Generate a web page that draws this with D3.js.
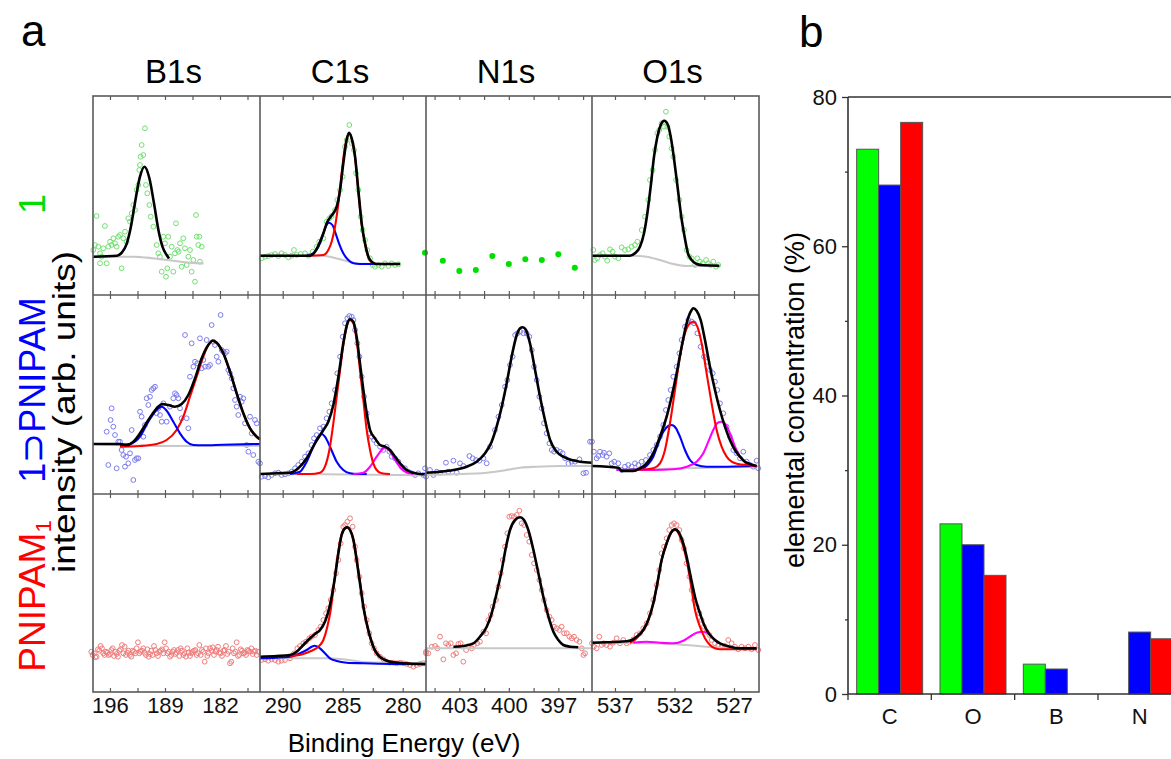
<!DOCTYPE html>
<html>
<head>
<meta charset="utf-8">
<script src="https://cdn.jsdelivr.net/npm/d3@7"></script>
<style>
body { margin: 0; background: #fff; }
svg { display: block; }
text { font-family: "Liberation Sans", Arial, sans-serif; }
</style>
</head>
<body>
<script>
// ---- panel a: XPS spectra, [binding energy (eV), intensity (arb. units)] ----
var columnNames = ["B1s", "C1s", "N1s", "O1s"];
var energyRanges = [[198.16, 176.91], [291.89, 278.06], [405.02, 394.96], [538.93, 524.90]];
var majorTicks = [[196, 189, 182], [290, 285, 280], [403, 400, 397], [537, 532, 527]];
var minorTicks = [[192.5, 185.5, 178.5], [287.5, 282.5], [404.5, 401.5, 398.5, 395.5], [534.5, 529.5]];

// row 1: compound 1
var b1s_1_pts = [[197.70,79.0],[197.91,50.0],[197.48,48.3],[198.12,45.0],[197.27,41.7],[197.06,38.3],[196.85,46.7],[196.64,69.0],[196.42,31.7],[197.27,31.7],[196.21,48.3],[196.00,53.3],[195.79,50.0],[195.57,56.7],[195.36,51.7],[195.15,48.3],[194.94,58.3],[194.73,60.0],[194.52,26.7],[194.30,56.7],[194.09,63.3],[193.88,53.3],[193.67,76.7],[193.45,73.3],[193.24,81.7],[193.03,90.0],[192.82,85.0],[192.61,105.0],[192.39,110.0],[192.27,125.0],[192.18,130.0],[192.10,138.3],[191.97,150.0],[191.76,140.0],[191.55,166.7],[191.42,110.0],[191.25,101.7],[190.99,90.0],[190.82,78.3],[190.48,68.3],[190.06,50.0],[189.85,41.7],[189.64,38.3],[189.42,23.3],[189.21,58.3],[189.00,51.7],[188.87,18.3],[188.70,26.7],[188.58,58.3],[188.36,38.3],[188.15,48.3],[187.94,23.3],[187.73,41.7],[187.60,71.7],[187.43,45.0],[187.26,43.3],[187.09,51.7],[186.88,28.3],[186.67,56.7],[186.46,46.7],[186.24,30.0],[186.03,38.3],[185.82,45.0],[185.61,23.3],[185.39,35.0],[185.18,13.3],[185.05,80.0],[184.97,58.3],[184.76,50.0],[184.63,58.3],[184.55,33.3],[184.33,48.3]];
var b1s_1_fit = [[198.1,38.3],[195.1,39.3],[194.5,42.3],[193.9,50.6],[193.35,67.7],[192.8,93.1],[192.2,117.9],[191.6,128.3],[191.0,117.2],[190.4,91.7],[189.85,65.6],[189.3,47.9],[188.7,39.0],[188.5,36.5]];
var b1s_1_bg = [[198.1,38.3],[193,38.2],[192,37.8],[191,37.1],[190,36.2],[189,35.3],[188,34.2],[187,33.2],[186,32.4],[185,31.9],[184.1,31.6]];

var c1s_1_pts = [[291.75,36.7],[291.47,38.3],[291.20,39.0],[290.92,40.0],[290.64,41.0],[290.36,39.0],[290.09,41.7],[289.81,40.0],[289.53,37.7],[289.25,39.3],[289.06,45.0],[288.84,40.0],[288.50,41.0],[288.14,41.7],[287.86,39.3],[287.50,43.3],[287.17,48.3],[286.95,53.3],[286.61,56.7],[286.34,73.3],[286.11,76.7],[285.92,79.0],[285.64,85.0],[285.45,95.0],[285.22,105.0],[285.00,118.3],[284.81,148.3],[284.67,155.0],[284.45,170.0],[284.25,151.7],[284.06,145.0],[283.89,121.7],[283.70,105.0],[283.50,78.3],[283.34,65.0],[283.14,55.0],[282.95,45.0],[282.72,36.7],[282.50,30.0],[282.31,28.3],[282.03,30.0],[281.75,28.3],[281.47,31.7],[281.20,29.0],[280.92,31.7],[280.64,30.0],[280.36,30.7]];
var c1s_1_fit = [[291.89,39.3],[287.72,39.3],[287.31,43.3],[286.89,53.3],[286.61,61.7],[286.28,73.3],[286.06,77.3],[285.78,81.7],[285.50,88.3],[285.22,105.0],[284.95,131.7],[284.67,155.0],[284.47,162.3],[284.25,156.7],[283.97,138.3],[283.70,105.0],[283.42,71.7],[283.14,51.7],[282.86,38.3],[282.59,33.3],[282.17,31.0],[280.22,31.0]];
var c1s_1_red = [[288.00,39.3],[286.61,40.0],[286.20,45.0],[285.92,53.3],[285.64,68.3],[285.36,91.7],[285.09,121.7],[284.81,148.3],[284.47,161.7],[284.25,156.0],[283.97,137.7],[283.70,104.3],[283.42,71.0],[283.14,51.0],[282.86,37.7],[282.59,32.7],[282.31,31.3]];
var c1s_1_blue = [[288.00,39.3],[287.45,41.7],[287.03,48.3],[286.70,58.3],[286.42,68.3],[286.14,72.3],[285.86,70.0],[285.59,61.7],[285.31,51.7],[284.95,41.7],[284.53,35.0],[284.11,31.7],[283.56,31.0],[282.45,31.0]];
var c1s_1_bg = [[291.89,39.3],[286.89,39.3],[286.06,38.3],[285.22,35.7],[284.39,33.0],[283.56,31.3],[280.22,31.0]];

var n1s_1_pts = [[405.08,42.3],[404,34.3],[403,24.0],[402,25.0],[401,39.0],[400,31.0],[399,35.7],[398,35.0],[397,40.7],[396,27.3]];

var o1s_1_pts = [[538.82,45.0],[538.68,35.0],[538.49,36.7],[538.26,40.0],[538.04,41.7],[537.84,38.3],[537.65,34.3],[537.42,45.7],[537.20,43.3],[537.00,38.3],[536.72,36.7],[536.44,47.7],[536.16,45.0],[535.88,45.7],[535.60,48.3],[535.32,50.0],[535.12,53.3],[534.76,65.0],[534.48,78.3],[534.20,95.0],[534.06,115.0],[533.84,125.0],[533.64,145.0],[533.44,161.7],[533.28,165.0],[533.08,171.7],[532.88,168.3],[532.72,183.3],[532.60,168.3],[532.44,158.3],[532.24,146.7],[532.10,138.3],[531.87,115.0],[531.59,95.0],[531.40,78.3],[531.20,65.0],[530.98,45.0],[530.75,38.3],[530.56,36.7],[530.28,30.0],[530.08,36.7],[529.86,33.3],[529.63,31.7],[529.35,35.0],[529.16,31.7],[528.96,30.0],[528.74,33.3],[528.51,28.3],[528.32,30.0]];
var o1s_1_fit = [[538.93,39.3],[535.74,39.3],[535.32,41.7],[534.90,48.3],[534.56,61.7],[534.28,81.7],[534.00,108.3],[533.72,138.3],[533.44,158.3],[533.16,170.0],[532.86,174.3],[532.55,170.0],[532.27,155.0],[531.99,131.7],[531.71,105.0],[531.43,78.3],[531.15,58.3],[530.87,41.7],[530.56,35.0],[530.14,31.0],[529.58,29.7],[528.23,29.3]];
var o1s_1_bg = [[538.93,39.3],[535.46,39.3],[534.34,38.3],[533.22,35.0],[532.10,31.0],[530.98,29.0],[528.23,29.0]];

// row 2: 1⊃PNIPAM
var b1s_2_pts = [[196.42,62.3],[196.21,29.0],[195.92,74.0],[195.79,85.7],[195.58,67.3],[195.36,59.0],[195.15,25.7],[194.94,52.3],[194.73,52.3],[194.52,44.0],[194.30,39.0],[194.09,27.3],[193.96,37.3],[193.67,30.7],[193.45,40.7],[193.24,64.0],[193.03,14.0],[192.82,34.0],[192.61,35.7],[192.39,35.7],[192.18,82.3],[191.97,77.3],[191.76,57.3],[191.55,69.0],[191.33,95.7],[191.12,89.0],[190.91,97.3],[190.70,104.0],[190.48,105.7],[190.27,107.3],[190.06,80.7],[189.85,85.7],[189.64,79.0],[189.42,72.3],[189.21,90.7],[188.79,72.3],[188.36,87.3],[187.94,95.7],[187.73,100.7],[187.52,99.0],[187.30,95.7],[187.09,85.7],[186.88,75.7],[186.45,159.0],[186.24,75.7],[186.03,65.7],[185.82,117.3],[185.61,150.7],[185.39,127.3],[185.18,132.3],[184.88,130.7],[184.55,155.7],[184.33,125.7],[184.12,134.0],[183.91,127.3],[183.70,154.0],[183.49,127.3],[183.27,129.0],[183.06,169.0],[182.85,152.3],[182.64,149.0],[182.42,137.3],[182.21,132.3],[181.92,179.0],[181.79,144.0],[181.58,142.3],[181.36,140.7],[181.15,142.3],[180.94,124.0],[180.73,120.7],[180.51,115.7],[180.30,105.7],[180.09,94.0],[179.88,87.3],[179.67,79.0],[179.45,97.3],[179.24,92.3],[179.03,95.7],[178.82,70.7],[178.61,49.0],[178.39,42.3],[178.18,77.3],[177.97,60.7],[177.76,39.0],[177.55,74.0],[177.33,70.7],[177.12,32.3],[176.91,30.7]];
var b1s_2_fit = [[198.12,50.0],[194.73,50.0],[193.88,49.0],[193.03,52.3],[192.18,60.7],[191.12,74.0],[190.06,85.7],[189.30,90.0],[188.58,89.0],[187.73,87.3],[186.88,90.0],[186.03,99.0],[185.18,115.7],[184.33,135.7],[183.49,149.0],[182.93,153.3],[182.42,151.3],[181.58,140.7],[180.73,122.3],[179.88,100.7],[179.03,80.7],[178.18,65.7],[177.33,57.3],[176.91,54.7]];
var b1s_2_red = [[194.73,47.3],[192.18,48.0],[190.06,50.0],[188.79,54.0],[187.52,64.0],[186.67,77.3],[185.82,97.3],[184.97,117.3],[184.12,137.3],[183.49,149.0],[182.93,153.3],[182.42,151.3],[181.58,140.7],[180.73,122.3],[179.88,100.7],[179.03,80.7],[178.18,65.7],[177.33,57.3],[176.91,54.7]];
var b1s_2_blue = [[194.73,49.0],[193.45,50.0],[192.18,57.3],[191.12,72.3],[190.06,84.0],[189.42,87.3],[188.79,83.3],[187.94,72.3],[187.09,60.7],[186.24,52.3],[185.39,49.0],[184.12,48.7],[181.58,49.3],[176.91,50.0]];
var b1s_2_bg = [[198.12,50.0],[194.30,48.7],[190.06,48.0],[176.91,48.3]];

var c1s_2_pts = [[291.75,17.3],[291.47,18.0],[291.20,16.7],[290.92,19.0],[290.64,20.7],[290.36,21.3],[290.09,19.0],[289.81,19.7],[289.53,20.7],[289.25,22.3],[288.97,25.7],[288.70,29.0],[288.42,32.3],[288.14,37.3],[287.86,40.7],[287.59,49.0],[287.39,55.7],[287.17,59.0],[286.89,65.7],[286.61,67.3],[286.34,75.7],[286.11,82.3],[285.92,90.7],[285.64,104.0],[285.45,120.7],[285.22,137.3],[285.00,157.3],[284.81,170.7],[284.61,175.7],[284.45,178.0],[284.25,177.3],[284.11,174.0],[283.97,164.0],[283.78,150.7],[283.61,137.3],[283.42,117.3],[283.22,97.3],[283.00,80.7],[282.78,60.7],[282.59,57.3],[282.39,54.0],[282.17,50.7],[281.89,47.3],[281.61,44.0],[281.34,47.3],[281.11,42.3],[280.92,37.3],[280.64,35.7],[280.36,32.3],[280.09,27.3],[279.81,25.7],[279.53,22.3],[279.25,20.7],[278.97,19.0],[278.70,20.7],[278.28,19.0],[278.14,25.7]];
var c1s_2_fit = [[291.89,20.0],[290.50,20.7],[289.39,21.3],[288.70,25.7],[288.00,35.7],[287.31,50.7],[286.61,64.0],[286.20,72.3],[285.78,89.0],[285.36,117.3],[284.95,150.7],[284.61,170.7],[284.39,174.7],[284.11,172.3],[283.84,157.3],[283.56,130.7],[283.28,104.0],[283.00,80.7],[282.72,64.0],[282.31,55.7],[281.89,49.0],[281.47,47.3],[281.06,44.0],[280.64,37.3],[280.22,30.7],[279.67,24.0],[279.11,21.3],[278.56,20.0],[278.14,19.7]];
var c1s_2_red = [[288.84,20.0],[287.72,20.0],[286.89,21.3],[286.48,27.3],[286.11,44.0],[285.78,70.7],[285.50,97.3],[285.22,124.0],[284.95,149.0],[284.67,167.3],[284.39,174.0],[284.11,170.7],[283.84,154.0],[283.56,124.0],[283.28,94.0],[283.00,64.0],[282.72,44.0],[282.45,30.7],[282.17,24.0],[281.75,20.7],[281.06,20.0]];
var c1s_2_blue = [[289.39,20.0],[288.56,22.3],[288.00,32.3],[287.45,47.3],[287.03,57.3],[286.75,60.0],[286.48,57.3],[286.06,47.3],[285.50,32.3],[284.95,24.0],[284.39,20.7],[283.84,20.0],[283.00,20.0]];
var c1s_2_mag = [[284.11,20.0],[283.28,21.3],[282.72,27.3],[282.17,37.3],[281.75,44.0],[281.47,46.7],[281.20,44.7],[280.78,37.3],[280.36,29.0],[279.81,22.3],[279.11,20.0]];
var c1s_2_bg = [[291.89,20.0],[286.61,19.7],[278.14,18.7]];

var n1s_2_pts = [[405.02,17.3],[404.78,24.0],[404.57,19.0],[404.37,22.3],[404.17,21.3],[403.81,31.3],[403.67,22.3],[403.36,33.3],[403.16,21.3],[402.96,30.7],[402.76,28.0],[402.39,38.0],[402.19,35.7],[401.99,34.0],[401.79,33.3],[401.54,35.7],[401.34,30.7],[401.14,47.3],[400.84,64.0],[400.63,77.3],[400.43,89.0],[400.23,107.3],[400.09,114.0],[399.93,129.0],[399.77,137.3],[399.62,159.0],[399.48,160.7],[399.32,162.3],[399.12,160.7],[398.92,160.7],[398.76,157.3],[398.61,144.0],[398.47,127.3],[398.31,114.0],[398.15,97.3],[398.01,85.7],[397.87,70.7],[397.71,60.7],[397.54,50.7],[397.40,44.0],[397.26,42.3],[397.10,44.0],[396.90,42.3],[396.74,40.7],[396.59,35.7],[396.39,30.7],[396.19,32.3],[395.99,32.3],[395.72,34.7],[395.48,20.7],[395.32,21.3],[395.08,52.3]];
var n1s_2_fit = [[405.02,21.3],[404.17,22.3],[403.36,24.0],[402.55,27.3],[401.95,32.3],[401.44,40.7],[401.04,52.3],[400.74,67.3],[400.43,87.3],[400.13,110.7],[399.83,137.3],[399.52,159.0],[399.32,165.7],[399.16,166.7],[398.96,164.0],[398.72,150.7],[398.41,124.0],[398.11,97.3],[397.81,74.0],[397.50,54.0],[397.10,42.3],[396.70,37.3],[396.19,34.0],[395.68,32.3],[394.96,31.3]];
var n1s_2_bg = [[405.02,19.0],[403.36,19.7],[401.34,21.3],[400.13,24.0],[399.32,26.3],[398.31,27.3],[396.90,28.0],[394.96,28.0]];

var o1s_2_pts = [[538.93,52.3],[538.77,42.3],[538.54,35.7],[538.40,38.0],[538.26,42.3],[538.04,39.0],[537.93,41.3],[537.70,37.3],[537.48,40.7],[537.28,30.7],[537.06,32.3],[536.72,30.7],[536.44,24.0],[536.16,27.3],[535.88,29.0],[535.60,27.3],[535.32,30.7],[535.04,29.0],[534.76,32.3],[534.40,34.0],[534.06,39.0],[533.78,44.0],[533.50,49.0],[533.22,57.3],[532.94,69.0],[532.72,84.0],[532.52,94.0],[532.32,104.0],[532.10,117.3],[531.82,127.3],[531.59,140.7],[531.40,154.0],[531.12,167.3],[530.84,174.0],[530.56,172.3],[530.36,170.7],[530.08,160.7],[529.80,147.3],[529.52,137.3],[529.24,132.3],[529.02,124.0],[528.79,120.7],[528.60,112.3],[528.40,104.0],[528.18,90.7],[527.90,80.7],[527.62,67.3],[527.34,57.3],[527.06,44.0],[526.78,40.7],[526.50,35.7],[526.22,42.3],[525.94,32.3],[525.66,29.0],[525.38,27.3],[525.10,33.3],[524.96,25.7]];
var o1s_2_fit = [[538.93,28.0],[536.72,26.3],[536.44,23.0],[535.46,23.0],[534.90,25.7],[534.34,30.7],[533.78,40.7],[533.22,57.3],[532.66,77.3],[532.24,97.3],[531.82,120.7],[531.40,147.3],[530.98,170.7],[530.64,182.3],[530.42,185.7],[530.14,183.3],[529.80,174.0],[529.44,154.0],[529.02,127.3],[528.60,104.0],[528.18,84.0],[527.76,67.3],[527.34,54.0],[526.92,44.0],[526.50,37.3],[526.08,32.3],[525.66,30.0],[525.10,28.0]];
var o1s_2_red = [[536.58,24.0],[534.34,24.7],[533.78,25.7],[533.22,30.7],[532.80,44.0],[532.38,70.7],[531.96,104.0],[531.54,137.3],[531.12,160.7],[530.70,170.7],[530.42,172.3],[530.08,167.3],[529.72,150.7],[529.30,120.7],[528.88,90.7],[528.46,64.0],[528.04,47.3],[527.62,37.3],[527.20,32.3],[526.64,30.0],[525.94,29.0],[525.10,28.0]];
var o1s_2_blue = [[536.86,24.0],[534.90,24.7],[534.20,30.0],[533.78,37.3],[533.36,50.7],[532.94,62.3],[532.52,68.0],[532.24,69.0],[531.87,65.7],[531.54,57.3],[531.12,44.0],[530.70,34.0],[530.14,29.0],[529.30,27.3],[528.18,27.3],[525.10,28.0]];
var o1s_2_mag = [[536.86,24.0],[533.78,24.0],[532.10,24.7],[530.98,27.3],[530.14,32.3],[529.58,40.7],[529.16,52.3],[528.74,64.0],[528.37,71.3],[528.04,72.3],[527.67,69.0],[527.34,60.7],[526.92,47.3],[526.50,37.3],[525.94,30.7],[525.38,28.0],[525.10,27.3]];
var o1s_2_bg = [[536.58,24.0],[530.98,25.7],[525.10,27.3]];

// row 3: PNIPAM1
var b1s_3_pts = [[198.21,37.0],[197.87,34.7],[197.53,42.7],[197.19,46.0],[196.85,38.7],[196.51,40.3],[196.17,37.0],[195.83,42.0],[195.49,36.0],[195.15,38.0],[194.81,41.3],[194.47,47.0],[194.13,45.3],[193.80,39.3],[193.46,37.0],[193.12,41.3],[192.78,38.7],[192.44,49.7],[192.10,40.3],[191.76,43.7],[191.42,37.0],[191.08,35.3],[190.74,41.3],[190.40,46.0],[190.06,38.7],[189.72,40.3],[189.38,42.7],[189.04,49.7],[188.70,38.7],[188.36,35.3],[188.02,40.3],[187.69,38.0],[187.35,42.0],[187.01,43.7],[186.67,37.0],[186.33,35.3],[185.99,39.3],[185.65,38.7],[185.31,41.3],[184.97,37.0],[184.63,47.0],[184.29,42.0],[183.95,30.3],[183.61,36.0],[183.27,43.7],[182.93,44.7],[182.59,40.3],[182.25,45.3],[181.92,38.7],[181.58,41.3],[181.24,46.0],[180.90,40.3],[180.56,30.3],[180.22,38.7],[179.88,49.7],[179.54,37.0],[179.20,41.3],[178.86,39.3],[178.52,42.0],[178.18,40.3],[177.84,38.0],[177.50,41.3],[177.16,40.3],
  [198.38,40.3],[198.04,38.7],[197.70,35.3],[197.36,41.3],[197.02,43.7],[196.68,37.0],[196.34,39.3],[196.00,38.0],[195.66,43.7],[195.32,40.3],[194.98,35.3],[194.64,42.7],[194.30,38.7],[193.97,37.0],[193.63,41.3],[193.29,35.3],[192.95,40.3],[192.61,43.7],[192.27,38.7],[191.93,41.3],[191.59,39.3],[191.25,42.7],[190.91,38.0],[190.57,37.0],[190.23,42.0],[189.89,36.0],[189.55,41.3],[189.21,38.7],[188.87,43.7],[188.53,40.3],[188.19,37.0],[187.85,42.0],[187.52,39.3],[187.18,36.0],[186.84,41.3],[186.50,38.7],[186.16,43.7],[185.82,36.0],[185.48,40.3],[185.14,42.0],[184.80,38.7],[184.46,37.0],[184.12,40.3],[183.78,43.7],[183.44,38.7],[183.10,41.3],[182.76,37.0],[182.42,42.0],[182.09,39.3],[181.75,36.0],[181.41,42.0],[181.07,38.0],[180.73,28.7],[180.39,43.7],[180.05,40.3],[179.71,36.0],[179.37,42.7],[179.03,38.7],[178.69,37.0],[178.35,41.3],[178.01,43.7],[177.67,40.3],[177.33,37.0]];

var c1s_3_pts = [[291.75,32.0],[291.47,32.7],[291.20,31.3],[290.92,32.7],[290.64,32.0],[290.36,30.3],[290.09,31.3],[289.81,32.0],[289.39,33.7],[289.06,38.7],[288.78,43.7],[288.56,46.0],[288.28,48.7],[288.06,50.3],[287.78,53.7],[287.59,55.3],[287.31,57.0],[287.03,62.0],[286.84,65.3],[286.61,72.0],[286.39,78.7],[286.20,83.7],[286.00,92.0],[285.78,102.0],[285.56,118.7],[285.36,132.0],[285.17,148.7],[284.95,165.3],[284.81,167.0],[284.61,170.3],[284.39,173.7],[284.17,165.3],[283.97,145.3],[283.84,132.0],[283.61,115.3],[283.42,98.7],[283.22,85.3],[283.00,72.0],[282.78,58.7],[282.59,48.7],[282.39,43.7],[282.17,38.7],[281.89,35.3],[281.61,32.7],[281.34,30.3],[281.06,29.3],[280.78,29.3],[280.50,28.7],[280.22,29.3],[279.95,28.7],[279.67,28.0],[279.39,27.0],[279.11,25.3],[278.84,27.0],[278.56,28.0],[278.28,28.7],[278.06,38.7]];
var c1s_3_fit = [[291.89,35.3],[290.50,36.0],[289.39,37.0],[288.84,40.3],[288.28,47.0],[287.72,53.7],[287.31,58.0],[286.89,62.0],[286.48,70.3],[286.20,80.3],[285.92,95.3],[285.64,115.3],[285.36,138.7],[285.09,157.0],[284.81,163.7],[284.61,164.7],[284.39,162.0],[284.11,152.0],[283.84,132.0],[283.56,108.7],[283.28,85.3],[283.00,68.7],[282.72,55.3],[282.45,45.3],[282.17,38.7],[281.75,33.7],[281.34,31.3],[280.78,29.7],[279.95,28.7],[278.06,28.0]];
var c1s_3_red = [[289.39,36.0],[288.28,38.0],[287.59,41.3],[287.03,45.3],[286.61,52.0],[286.28,65.3],[286.00,82.0],[285.72,108.7],[285.45,133.7],[285.17,153.7],[284.89,162.7],[284.61,164.3],[284.34,161.3],[284.06,150.3],[283.78,128.7],[283.50,105.3],[283.22,82.0],[282.95,65.3],[282.67,52.7],[282.39,43.7],[282.03,37.0],[281.61,33.0],[281.06,30.3],[280.22,29.3],[279.39,28.7]];
var c1s_3_blue = [[291.89,33.7],[290.50,34.3],[289.39,35.3],[288.56,38.7],[288.00,42.0],[287.59,45.3],[287.31,46.3],[286.89,43.7],[286.48,38.7],[286.06,33.7],[285.50,31.0],[284.67,29.3],[283.28,28.7],[281.06,28.0],[278.06,27.7]];
var c1s_3_bg = [[291.89,33.7],[286.61,33.7],[284.95,32.7],[283.28,30.0],[278.06,28.7]];

var n1s_3_pts = [[405.02,40.3],[404.88,38.7],[404.67,45.3],[404.47,46.0],[404.33,43.7],[404.17,55.3],[403.97,32.7],[403.81,48.7],[403.67,47.0],[403.52,48.7],[403.36,37.0],[403.20,38.7],[403.06,48.0],[402.92,48.7],[402.76,30.3],[402.59,42.0],[402.45,46.0],[402.25,43.7],[402.11,47.0],[401.91,48.7],[401.75,50.3],[401.54,60.3],[401.38,58.7],[401.24,72.0],[401.10,77.0],[400.98,85.3],[400.78,92.0],[400.63,105.3],[400.49,118.7],[400.37,132.0],[400.23,145.3],[400.09,158.7],[399.97,175.3],[399.83,176.0],[399.68,175.3],[399.52,177.0],[399.36,181.3],[399.22,168.7],[399.08,167.0],[398.92,157.0],[398.76,150.3],[398.61,137.0],[398.47,128.7],[398.31,122.0],[398.15,112.0],[398.01,102.0],[397.87,92.0],[397.71,82.0],[397.54,75.3],[397.40,72.0],[397.26,65.3],[397.10,63.7],[396.94,62.0],[396.80,65.3],[396.65,58.7],[396.49,58.7],[396.33,55.3],[396.19,53.7],[396.05,55.3],[395.89,52.0],[395.72,50.3],[395.58,43.7],[395.48,37.0],[395.38,38.7]];
var n1s_3_fit = [[403.36,45.3],[402.76,46.0],[402.15,48.7],[401.75,55.3],[401.34,65.3],[401.04,78.7],[400.74,98.7],[400.43,122.0],[400.17,145.3],[399.93,162.0],[399.62,172.0],[399.32,174.7],[399.08,172.0],[398.82,162.0],[398.51,142.0],[398.21,118.7],[397.91,95.3],[397.60,75.3],[397.30,60.3],[397.00,52.0],[396.70,47.0],[396.29,45.3],[395.79,44.7]];
var n1s_3_bg = [[405.02,43.7],[401.34,43.7],[394.96,43.7]];

var o1s_3_pts = [[538.93,48.7],[538.77,45.3],[538.54,43.7],[538.32,55.3],[538.12,47.0],[537.93,48.7],[537.70,47.0],[537.42,45.3],[537.14,49.3],[536.86,53.7],[536.58,48.7],[536.30,52.0],[536.02,48.7],[535.74,50.3],[535.46,52.7],[535.18,57.0],[534.90,58.7],[534.62,63.7],[534.34,68.7],[534.06,78.7],[533.78,92.0],[533.50,107.0],[533.28,122.0],[533.08,138.7],[532.88,145.3],[532.66,153.7],[532.44,162.0],[532.24,167.0],[532.04,168.7],[531.82,167.0],[531.59,162.0],[531.40,152.0],[531.20,143.7],[530.98,128.7],[530.75,115.3],[530.56,102.0],[530.36,92.0],[530.14,85.3],[529.91,78.7],[529.72,72.0],[529.52,65.3],[529.30,60.3],[529.07,57.0],[528.88,52.0],[528.60,48.7],[528.32,47.0],[528.04,45.3],[527.76,46.0],[527.48,52.0],[527.20,48.7],[526.92,45.3],[526.64,42.7],[526.36,45.3],[526.08,43.7],[525.80,45.3],[525.52,42.7],[525.24,47.0],[524.96,42.0]];
var o1s_3_fit = [[538.93,49.3],[537.70,49.7],[536.58,50.3],[535.74,51.3],[535.18,55.3],[534.62,62.0],[534.20,72.0],[533.78,88.7],[533.44,108.7],[533.08,132.0],[532.66,148.7],[532.32,158.7],[531.96,162.7],[531.59,158.7],[531.26,148.7],[530.98,135.3],[530.64,115.3],[530.28,95.3],[529.86,78.7],[529.44,65.3],[529.02,57.0],[528.60,52.0],[528.18,48.7],[527.34,45.3],[526.50,43.7],[525.10,43.7]];
var o1s_3_red = [[535.74,49.3],[535.18,53.7],[534.62,62.0],[534.20,72.0],[533.78,88.7],[533.44,108.7],[533.08,132.0],[532.66,148.7],[532.32,158.7],[531.96,162.0],[531.59,157.0],[531.26,145.3],[530.98,132.0],[530.64,108.7],[530.28,82.0],[529.86,65.3],[529.44,53.7],[529.02,47.0],[528.60,43.7],[528.18,42.7],[527.34,42.7],[525.10,42.7]];
var o1s_3_mag = [[535.46,49.3],[534.34,50.3],[533.22,49.3],[532.10,48.7],[531.26,51.3],[530.70,55.3],[530.14,59.3],[529.63,60.3],[529.16,58.7],[528.74,53.7],[528.32,48.7]];
var o1s_3_bg = [[538.93,49.3],[533.78,48.7],[530.98,47.0],[528.18,44.3],[525.10,43.7]];

// ---- panel b: elemental concentration (%) ----
var elements = ["C", "O", "B", "N"];
var conc1 = [73.0, 22.8, 4.0, 0];
var conc1PNIPAM = [68.2, 20.0, 3.35, 8.3];
var concPNIPAM = [76.6, 15.9, 0, 7.4];
var concTicks = [0, 20, 40, 60, 80];
var concMinor = [10, 30, 50, 70];

var w = 1171;
var h = 759;
var frameColor = "#5a5a5a";
var lineColors = { black: "#000000", red: "#ff0000", blue: "#0000ff", magenta: "#ff00ff", grey: "#c8c8c8" };
var pointColors = ["#72e072", "#7c7cee", "#f07c7c"];

var svg = d3.select("body").append("svg").attr("width", w).attr("height", h);

var colX = [93, 260, 426, 592, 759];
var rowY = [96, 295, 494, 692];

var xScales = energyRanges.map(function (r, i) {
    return d3.scaleLinear().domain(r).range([colX[i], colX[i + 1]]);
});
var yScales = [0, 1, 2].map(function (j) {
    return d3.scaleLinear().domain([0, rowY[j + 1] - rowY[j]]).range([rowY[j + 1], rowY[j]]);
});

var panels = [
    { row: 0, col: 0, pts: b1s_1_pts, lines: [[b1s_1_bg, "grey"], [b1s_1_fit, "black"]] },
    { row: 0, col: 1, pts: c1s_1_pts, lines: [[c1s_1_bg, "grey"], [c1s_1_blue, "blue"], [c1s_1_red, "red"], [c1s_1_fit, "black"]] },
    { row: 0, col: 2, dots: n1s_1_pts, lines: [] },
    { row: 0, col: 3, pts: o1s_1_pts, lines: [[o1s_1_bg, "grey"], [o1s_1_fit, "black"]] },
    { row: 1, col: 0, pts: b1s_2_pts, lines: [[b1s_2_bg, "grey"], [b1s_2_red, "red"], [b1s_2_blue, "blue"], [b1s_2_fit, "black"]] },
    { row: 1, col: 1, pts: c1s_2_pts, lines: [[c1s_2_bg, "grey"], [c1s_2_blue, "blue"], [c1s_2_mag, "magenta"], [c1s_2_red, "red"], [c1s_2_fit, "black"]] },
    { row: 1, col: 2, pts: n1s_2_pts, lines: [[n1s_2_bg, "grey"], [n1s_2_fit, "black"]] },
    { row: 1, col: 3, pts: o1s_2_pts, lines: [[o1s_2_bg, "grey"], [o1s_2_blue, "blue"], [o1s_2_mag, "magenta"], [o1s_2_red, "red"], [o1s_2_fit, "black"]] },
    { row: 2, col: 0, pts: b1s_3_pts, lines: [] },
    { row: 2, col: 1, pts: c1s_3_pts, lines: [[c1s_3_bg, "grey"], [c1s_3_blue, "blue"], [c1s_3_red, "red"], [c1s_3_fit, "black"]] },
    { row: 2, col: 2, pts: n1s_3_pts, lines: [[n1s_3_bg, "grey"], [n1s_3_fit, "black"]] },
    { row: 2, col: 3, pts: o1s_3_pts, lines: [[o1s_3_bg, "grey"], [o1s_3_mag, "magenta"], [o1s_3_red, "red"], [o1s_3_fit, "black"]] }
];

var gA = svg.append("g");

panels.forEach(function (p) {
    var xs = xScales[p.col];
    var ys = yScales[p.row];
    var g = gA.append("g");

    if (p.pts) {
        g.selectAll("circle")
            .data(p.pts)
            .enter()
            .append("circle")
            .attr("cx", function (d) { return xs(d[0]); })
            .attr("cy", function (d) { return ys(d[1]); })
            .attr("r", 2.4)
            .attr("fill", "none")
            .attr("stroke", pointColors[p.row])
            .attr("stroke-width", 1);
    }
    if (p.dots) {
        g.selectAll("circle")
            .data(p.dots)
            .enter()
            .append("circle")
            .attr("cx", function (d) { return xs(d[0]); })
            .attr("cy", function (d) { return ys(d[1]); })
            .attr("r", 3)
            .attr("fill", "#00e000");
    }

    var line = d3.line()
        .x(function (d) { return xs(d[0]); })
        .y(function (d) { return ys(d[1]); })
        .curve(d3.curveMonotoneX);

    p.lines.forEach(function (l) {
        g.append("path")
            .attr("d", line(l[0]))
            .attr("fill", "none")
            .attr("stroke", lineColors[l[1]])
            .attr("stroke-width", l[1] == "black" ? 2.6 : 2.1)
            .attr("stroke-linejoin", "round");
    });
});

// ticks on top and bottom of every row, pointing inward
for (var j = 0; j < 3; j++) {
    for (var i = 0; i < 4; i++) {
        var tv = majorTicks[i].concat(minorTicks[i]);
        var tickTop = gA.append("g").attr("transform", "translate(0," + rowY[j] + ")")
            .call(d3.axisTop(xScales[i]).tickValues(tv).tickSize(-4).tickFormat(""));
        var tickBot = gA.append("g").attr("transform", "translate(0," + rowY[j + 1] + ")")
            .call(d3.axisBottom(xScales[i]).tickValues(tv).tickSize(-4).tickFormat(""));
        [tickTop, tickBot].forEach(function (a) {
            a.select(".domain").remove();
            a.selectAll("line").attr("stroke", frameColor).attr("stroke-width", 1.2);
        });
    }
}

// tick labels under bottom row
for (var i = 0; i < 4; i++) {
    var lab = gA.append("g").attr("transform", "translate(0," + rowY[3] + ")")
        .call(d3.axisBottom(xScales[i]).tickValues(majorTicks[i]).tickSize(0).tickPadding(5));
    lab.select(".domain").remove();
    lab.selectAll("text")
        .attr("font-size", "22px")
        .attr("fill", "#111")
        .style("font-family", "'Liberation Sans', Arial, sans-serif");
}

// frame and grid lines
gA.append("rect")
    .attr("x", colX[0]).attr("y", rowY[0])
    .attr("width", colX[4] - colX[0]).attr("height", rowY[3] - rowY[0])
    .attr("fill", "none").attr("stroke", frameColor).attr("stroke-width", 1.6);
[1, 2, 3].forEach(function (i) {
    gA.append("line").attr("x1", colX[i]).attr("x2", colX[i]).attr("y1", rowY[0]).attr("y2", rowY[3])
        .attr("stroke", frameColor).attr("stroke-width", 1.6);
});
[1, 2].forEach(function (j) {
    gA.append("line").attr("x1", colX[0]).attr("x2", colX[4]).attr("y1", rowY[j]).attr("y2", rowY[j])
        .attr("stroke", frameColor).attr("stroke-width", 1.6);
});

// column titles
columnNames.forEach(function (n, i) {
    gA.append("text")
        .attr("x", (colX[i] + colX[i + 1]) / 2 - 3)
        .attr("y", 83)
        .attr("text-anchor", "middle")
        .attr("font-size", "33px")
        .text(n);
});

gA.append("text")
    .attr("x", 404).attr("y", 752)
    .attr("text-anchor", "middle")
    .attr("font-size", "26px")
    .text("Binding Energy (eV)");

gA.append("text")
    .attr("transform", "translate(75,412) rotate(-90)")
    .attr("text-anchor", "middle")
    .attr("font-size", "31px")
    .attr("textLength", 322)
    .attr("lengthAdjust", "spacingAndGlyphs")
    .text("intensity (arb. units)");

gA.append("text")
    .attr("transform", "translate(45,204) rotate(-90)")
    .attr("text-anchor", "middle")
    .attr("font-size", "36px")
    .attr("fill", "#00dd00")
    .text("1");

gA.append("text")
    .attr("transform", "translate(45,390) rotate(-90)")
    .attr("text-anchor", "middle")
    .attr("font-size", "36px")
    .attr("fill", "#0000ff")
    .text("1\u2283PNIPAM");

var redLab = gA.append("text")
    .attr("transform", "translate(45,596) rotate(-90)")
    .attr("text-anchor", "middle")
    .attr("font-size", "37px")
    .attr("fill", "#ff0000");
redLab.append("tspan").text("PNIPAM");
redLab.append("tspan").attr("font-size", "22px").attr("dy", 6).text("1");

svg.append("text").attr("x", 21).attr("y", 46).attr("font-size", "44px").text("a");
svg.append("text").attr("x", 799).attr("y", 47).attr("font-size", "44px").text("b");

// ---- panel b ----
var gB = svg.append("g");
var xb = d3.scaleBand().domain(elements).range([848, 848 + 83.33 * elements.length]).padding(0);
var yb = d3.scaleLinear().domain([0, 80]).range([694, 97]);
var series = [conc1, conc1PNIPAM, concPNIPAM];
var barColors = ["#00ff00", "#0000ff", "#ff0000"];
var barW = 22;

series.forEach(function (s, k) {
    var rows = elements.map(function (e, i) { return { el: e, v: s[i] }; })
        .filter(function (d) { return d.v > 0; });
    gB.append("g").selectAll("rect")
        .data(rows)
        .enter()
        .append("rect")
        .attr("x", function (d) { return xb(d.el) + xb.bandwidth() / 2 - 1.5 * barW + k * barW; })
        .attr("y", function (d) { return yb(d.v); })
        .attr("width", barW)
        .attr("height", function (d) { return yb(0) - yb(d.v); })
        .attr("fill", barColors[k])
        .attr("stroke", "#555")
        .attr("stroke-width", 1);
});

var axisColor = "#333";
var yAx = gB.append("g").attr("transform", "translate(848,0)")
    .call(d3.axisLeft(yb).tickValues(concTicks).tickSize(6).tickPadding(5).tickFormat(d3.format("d")));
yAx.select(".domain").remove();
yAx.selectAll("line").attr("stroke", axisColor).attr("stroke-width", 1.3);
yAx.selectAll("text").attr("font-size", "22px").attr("fill", "#111")
    .style("font-family", "'Liberation Sans', Arial, sans-serif");
var yMin = gB.append("g").attr("transform", "translate(848,0)")
    .call(d3.axisLeft(yb).tickValues(concMinor).tickSize(3).tickFormat(""));
yMin.select(".domain").remove();
yMin.selectAll("line").attr("stroke", axisColor).attr("stroke-width", 1.3);

var xAx = gB.append("g").attr("transform", "translate(0,694)")
    .call(d3.axisBottom(xb).tickSize(0).tickPadding(14));
xAx.select(".domain").remove();
xAx.selectAll("text").attr("font-size", "22px").attr("fill", "#111")
    .style("font-family", "'Liberation Sans', Arial, sans-serif");

gB.selectAll(".bandtick")
    .data(elements)
    .enter()
    .append("line")
    .attr("class", "bandtick")
    .attr("x1", function (d) { return xb(d); })
    .attr("x2", function (d) { return xb(d); })
    .attr("y1", 694).attr("y2", 700)
    .attr("stroke", axisColor).attr("stroke-width", 1.3);

gB.append("line").attr("x1", 848).attr("x2", w).attr("y1", 694).attr("y2", 694)
    .attr("stroke", axisColor).attr("stroke-width", 1.6);
gB.append("line").attr("x1", 848).attr("x2", w).attr("y1", 97).attr("y2", 97)
    .attr("stroke", axisColor).attr("stroke-width", 1.6);
gB.append("line").attr("x1", 848).attr("x2", 848).attr("y1", 97).attr("y2", 694)
    .attr("stroke", axisColor).attr("stroke-width", 1.6);

gB.append("text")
    .attr("transform", "translate(804,400) rotate(-90)")
    .attr("text-anchor", "middle")
    .attr("font-size", "27px")
    .text("elemental concentration (%)");
</script>
</body>
</html>
